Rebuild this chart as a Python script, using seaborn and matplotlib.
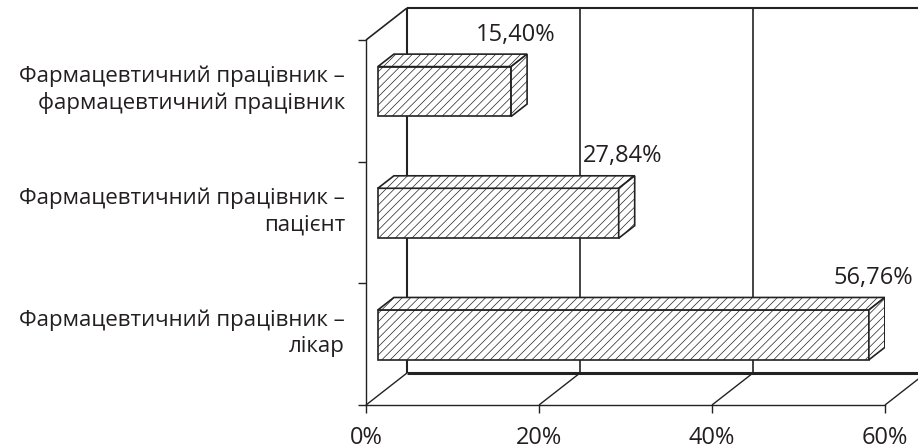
import numpy as np
import pandas as pd
import matplotlib
matplotlib.use("Agg")
import matplotlib.pyplot as plt
import seaborn as sns
from matplotlib.patches import Polygon

# data
categories = ["Фармацевтичний працівник –\nфармацевтичний працівник",
              "Фармацевтичний працівник –\nпацієнт",
              "Фармацевтичний працівник –\nлікар"]
values = [15.40, 27.84, 56.76]
x_ticks = [0, 20, 40, 60]
x_tick_labels = ["0%", "20%", "40%", "60%"]

sns.set_theme(style="white")
plt.rcParams['font.family'] = ['Open Sans', 'DejaVu Sans']
plt.rcParams['hatch.linewidth'] = 0.5

W, H = 918, 448
fig = plt.figure(figsize=(W / 100, H / 100), dpi=100)
# front frame of the 3d box, in pixels
fx0, fx1, fy0, fy1 = 366, 885, 40, 405
ax = fig.add_axes([fx0 / W, (H - fy1) / H, (fx1 - fx0) / W, (fy1 - fy0) / H])

df = pd.DataFrame({"cat": categories, "val": values})
sns.barplot(data=df, y="cat", x="val", orient="h", width=0.41,
            color="white", edgecolor="#222222", linewidth=1.2, hatch="////", ax=ax)

ax.set_xlim(0, 60)
ax.set_ylim(2.5, -0.5)

# depth of the 3d box in data units
px_x = (fx1 - fx0) / 60.0
px_y = (fy1 - fy0) / 3.0
Dx = 41 / px_x
Dy = -32 / px_y
f0, fd = 0.29, 0.39  # bar front position / bar thickness as depth fraction

lc = "#222222"
tc = "#231f20"
kw = dict(color=lc, clip_on=False, solid_capstyle="butt")
# back wall
ax.plot([Dx, Dx], [-0.5 + Dy, 2.5 + Dy], lw=1.5, **kw)
ax.plot([Dx, 60 + Dx], [-0.5 + Dy, -0.5 + Dy], lw=1.5, **kw)
ax.plot([Dx, 60 + Dx], [2.5 + Dy, 2.5 + Dy], lw=2.2, **kw)
for t in x_ticks[1:]:
    ax.plot([t + Dx, t + Dx], [-0.5 + Dy, 2.5 + Dy], lw=1.2, **kw)
# side wall and floor diagonals
ax.plot([0, Dx], [-0.5, -0.5 + Dy], lw=1.2, **kw)
for t in x_ticks:
    ax.plot([t, t + Dx], [2.5, 2.5 + Dy], lw=1.0, **kw)

# 3d bars: shift front faces and add top and side faces
for p, v in zip(ax.patches, values):
    p.set_x(p.get_x() + f0 * Dx)
    p.set_y(p.get_y() + f0 * Dy)
    p.set_zorder(3)
    x0, y0 = p.get_x(), p.get_y()
    w, h = p.get_width(), p.get_height()
    ddx, ddy = fd * Dx, fd * Dy
    top = Polygon([(x0, y0), (x0 + w, y0), (x0 + w + ddx, y0 + ddy), (x0 + ddx, y0 + ddy)],
                  closed=True, facecolor="white", edgecolor=lc, lw=1.2, hatch="////", zorder=3)
    side = Polygon([(x0 + w, y0), (x0 + w, y0 + h), (x0 + w + ddx, y0 + h + ddy), (x0 + w + ddx, y0 + ddy)],
                   closed=True, facecolor="white", edgecolor=lc, lw=1.2, hatch="////", zorder=3)
    ax.add_patch(top)
    ax.add_patch(side)
    ax.annotate(f"{v:.2f}%".replace(".", ","), (x0 + w, y0 + ddy),
                xytext=(3, 14), textcoords="offset points",
                ha="center", va="center", fontsize=17, color=tc)

# axes styling
for s in ["top", "right"]:
    ax.spines[s].set_visible(False)
for s in ["left", "bottom"]:
    ax.spines[s].set_color(lc)
    ax.spines[s].set_linewidth(1.0)

ax.set_xticks(x_ticks)
ax.set_xticklabels(x_tick_labels, fontsize=17, color=tc)
ax.set_yticks([i + 0.5 * Dy for i in range(len(categories))])
ax.set_yticklabels(categories, fontsize=16, color=tc, ha="right", linespacing=1.3)
ax.set_yticks([-0.5, 0.5, 1.5, 2.5], minor=True)
ax.tick_params(axis="x", which="major", length=6, width=1.0, color=lc, pad=9, bottom=True)
ax.tick_params(axis="y", which="major", length=0, pad=15)
ax.tick_params(axis="y", which="minor", length=6, width=1.0, color=lc, left=True)
ax.set_xlabel("")
ax.set_ylabel("")
ax.grid(False)

fig.savefig("out.png", dpi=100)
